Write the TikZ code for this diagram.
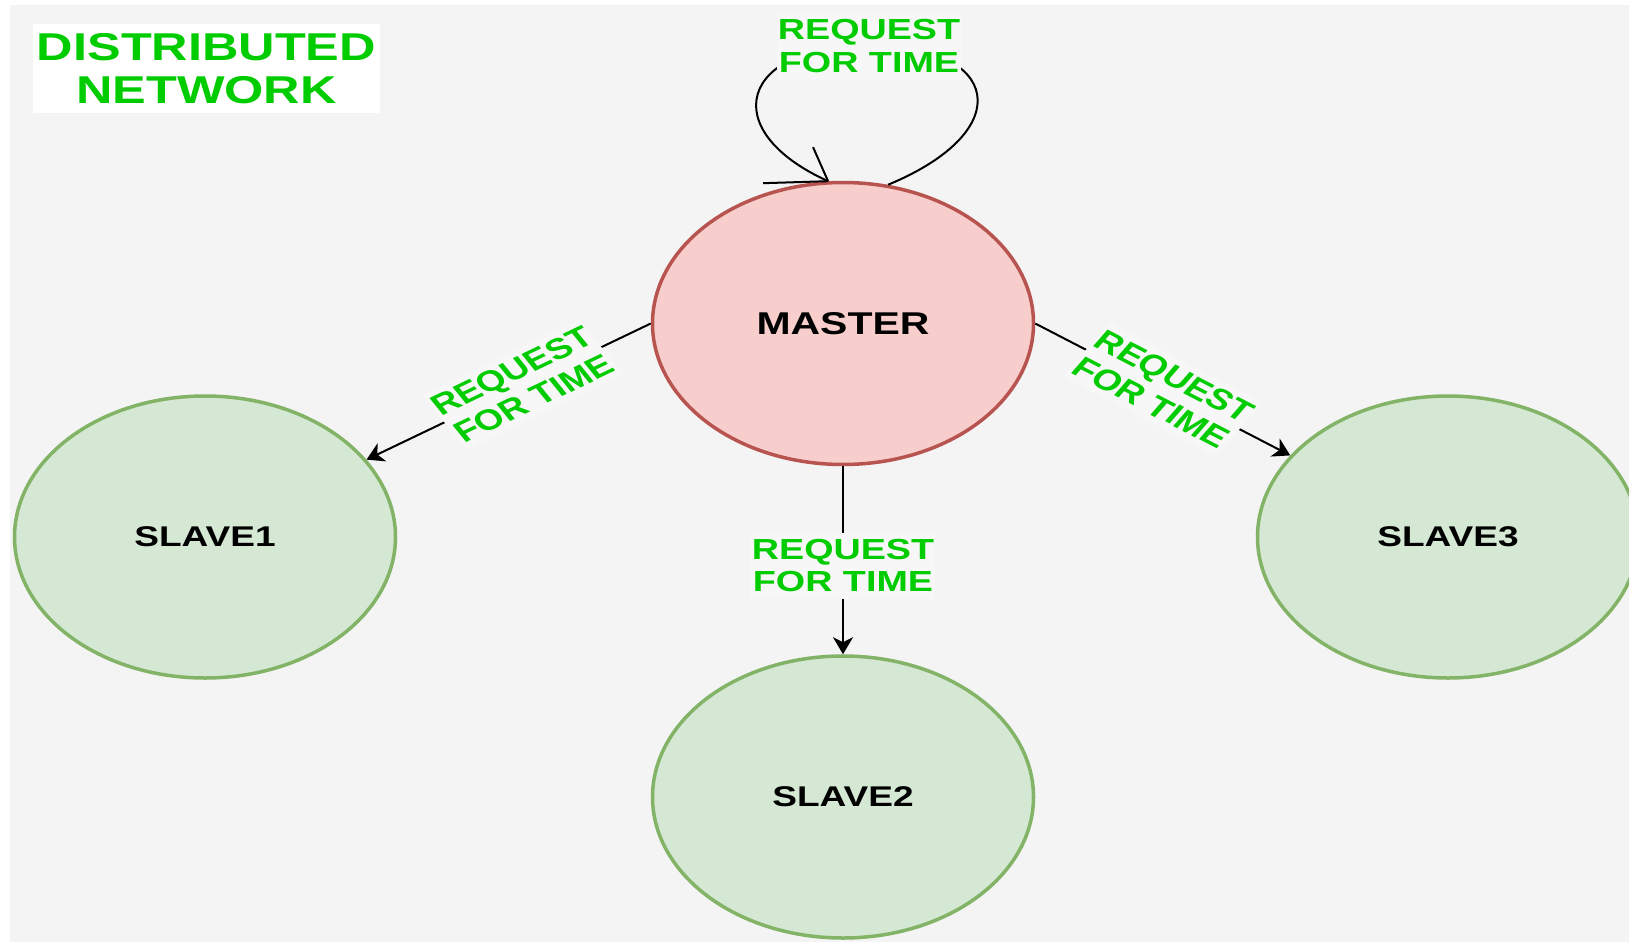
\documentclass[tikz,border=0pt]{standalone}
\usepackage{fontspec}
\newfontfamily\lblfont[FakeStretch=1.3]{Liberation Sans Bold}
\newfontfamily\plainfont{Liberation Sans Bold}
\usetikzlibrary{arrows.meta,shapes.geometric}
\definecolor{bggrey}{HTML}{F4F4F4}
\definecolor{lblbg}{HTML}{F7F7F7}
\definecolor{mfill}{HTML}{F8CECC}
\definecolor{mline}{HTML}{B85450}
\definecolor{sfill}{HTML}{D5E8D4}
\definecolor{sline}{HTML}{82B366}
\definecolor{tgreen}{HTML}{00CC00}
\begin{document}
\begin{tikzpicture}[x=1pt,y=1pt,
  masternode/.style={ellipse, draw=mline, fill=mfill, line width=3.5pt,
    minimum width=381pt, minimum height=282pt, inner sep=0pt,
    font=\lblfont\fontsize{31.5}{34}\selectfont},
  slavenode/.style={ellipse, draw=sline, fill=sfill, line width=3.5pt,
    minimum width=381pt, minimum height=282pt, inner sep=0pt,
    font=\lblfont\fontsize{28.5}{31}\selectfont},
  conn/.style={line width=2pt, -{Stealth[length=17pt,width=20pt,inset=5pt]}},
  loopline/.style={line width=2pt},
  reqlabel/.style={fill=lblbg, text=tgreen, align=center,
    font=\lblfont\fontsize{29}{32}\selectfont, inner xsep=1pt, inner ysep=7pt},
  reqlabelrot/.style={fill=lblbg, text=tgreen, align=center,
    font=\plainfont\fontsize{29}{32}\selectfont, inner xsep=1pt, inner ysep=6pt},
  titlebox/.style={fill=white, minimum width=347pt, minimum height=89pt,
    inner sep=0pt, text=tgreen, align=center,
    font=\lblfont\fontsize{38.8}{43}\selectfont}
]
\useasboundingbox (0,0) rectangle (1629,-942);
\fill[white] (0,0) rectangle (1629,-942);
\fill[bggrey] (10,-5) rectangle (1629,-942);

\node[titlebox] (title) at (206.5,-68.5) {DISTRIBUTED\\NETWORK};

\node[masternode] (master) at (843,-323.5) {MASTER};
\node[slavenode] (slave1) at (205,-537) {SLAVE1};
\node[slavenode] (slave2) at (843,-797) {SLAVE2};
\node[slavenode] (slave3) at (1448,-537) {SLAVE3};

\draw[conn] (master.west) -- node[reqlabelrot, pos=0.45, xscale=1.3, rotate=31.9] {REQUEST\\FOR TIME} (slave1);
\draw[conn] (master.east) -- node[reqlabelrot, midway, xscale=1.3, rotate=-33.9] {REQUEST\\FOR TIME} (slave3);
\draw[conn] (master.south) -- node[reqlabel, pos=0.53] {REQUEST\\FOR TIME} (slave2);

\draw[loopline] (master.72) .. controls (1020,-130) and (1000,-45) .. (869,-45)
  .. controls (740,-45) and (715,-130) .. (master.96);
\draw[loopline] (master.96) -- ++(-65,-2) (master.96) -- ++(-15,34);
\node[reqlabel, font=\lblfont\fontsize{29}{33}\selectfont] (looplbl) at (869,-46) {REQUEST\\FOR TIME};
\end{tikzpicture}
\end{document}
